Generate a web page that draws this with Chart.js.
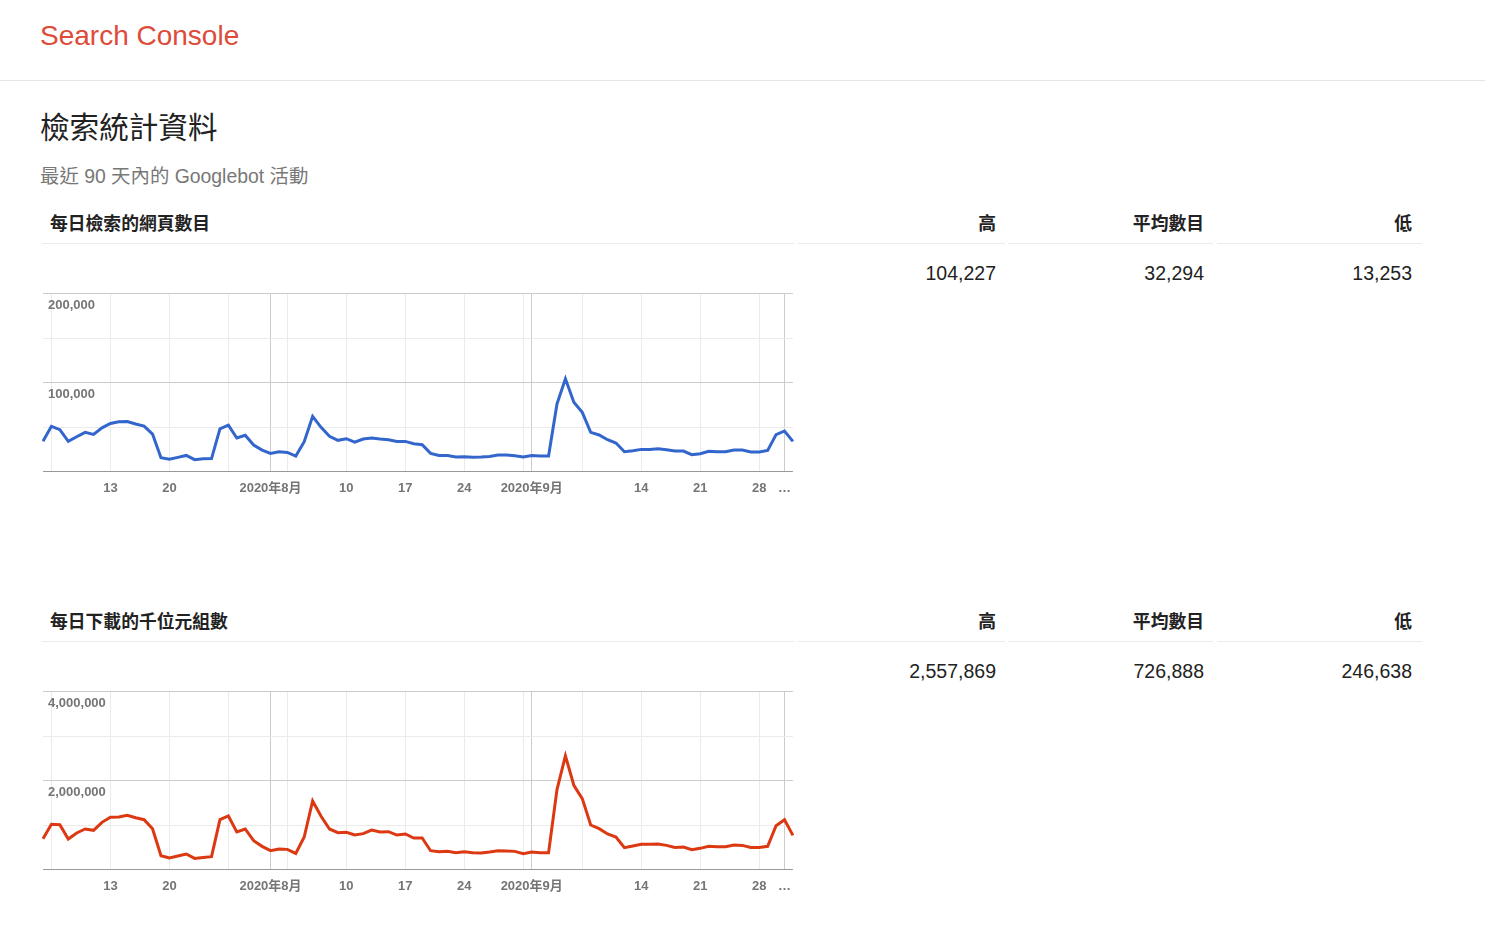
<!DOCTYPE html>
<html lang="zh-Hant">
<head>
<meta charset="utf-8">
<title>Search Console - 檢索統計資料</title>
<script src="https://cdn.jsdelivr.net/npm/chart.js@4.4.1/dist/chart.umd.min.js"></script>
<style>
  body { margin: 0; background: #fff; font-family: "Liberation Sans", Arial, "Noto Sans CJK TC", sans-serif; color: #222; }
  .abs { position: absolute; white-space: nowrap; }
  .topbar { left: 0; top: 0; width: 1485px; height: 80px; border-bottom: 1px solid #e5e5e5; }
  .brand { left: 40px; top: 20px; font-size: 28px; line-height: 32px; color: #dd4b39; }
  .title { left: 40px; top: 108px; font-size: 29.6px; line-height: 40px; color: #222; }
  .sub { left: 40px; top: 164px; font-size: 19.4px; line-height: 24px; color: #777; }
  .block { left: 0; width: 1485px; height: 320px; }
  .rule { top: 43px; height: 1px; background: #ebebeb; }
  .head { top: 12px; font-size: 17.8px; line-height: 24px; font-weight: bold; color: #222; }
  .val { top: 61px; font-size: 19.5px; line-height: 24px; color: #222; text-align: right; }
  .chartbox { left: 33px; top: 81px; }
</style>
</head>
<body>
<div class="abs topbar"></div>
<div class="abs brand">Search Console</div>
<div class="abs title">檢索統計資料</div>
<div class="abs sub">最近 90 天內的 Googlebot 活動</div>

<div class="abs block" id="block1" style="top:200px"></div>
<div class="abs block" id="block2" style="top:598px"></div>

<script>
// 90 days of Googlebot activity, starting 2020-07-05
const startDay = new Date(2020, 6, 5);
const days = [];
for (let i = 0; i < 90; i++) {
    const d = new Date(startDay.getFullYear(), startDay.getMonth(), startDay.getDate() + i);
    days.push(d.getFullYear() + '/' + (d.getMonth() + 1) + '/' + d.getDate());
}

const pagesCrawled = [
    34000, 50700, 47000, 33800, 39000, 44000, 41700, 49000, 54000, 56000,
    56200, 53400, 51000, 42000, 15400, 13600, 15800, 18000, 13253, 14300,
    14400, 48000, 52000, 37600, 40600, 29700, 24000, 20300, 22200, 21400,
    17300, 33500, 62000, 49600, 39500, 35000, 36800, 33000, 36500, 37600,
    36500, 35700, 33800, 33800, 31200, 30000, 20300, 18000, 18000, 16200,
    16500, 15800, 16200, 16900, 18400, 18400, 17700, 16200, 18000, 17300,
    17300, 76000, 104227, 77800, 66500, 44000, 41000, 35700, 32000, 22200,
    23300, 24800, 24800, 25600, 24400, 22900, 22900, 18800, 19900, 22600,
    22200, 22200, 24000, 24000, 21800, 21800, 23700, 41400, 45500, 33800
];

const kbDownloaded = [
    692000, 1015000, 1008000, 684000, 820000, 910000, 880000, 1060000, 1173000, 1180000,
    1218000, 1165000, 1120000, 917000, 308000, 256000, 300000, 346000, 246638, 270000,
    286000, 1120000, 1203000, 842000, 910000, 647000, 519000, 421000, 459000, 451000,
    360000, 729000, 1541000, 1195000, 910000, 827000, 835000, 774000, 805000, 887000,
    842000, 850000, 774000, 797000, 707000, 707000, 421000, 398000, 406000, 376000,
    398000, 376000, 368000, 391000, 421000, 414000, 406000, 353000, 391000, 376000,
    376000, 1797000, 2557869, 1895000, 1594000, 1000000, 917000, 797000, 729000, 489000,
    526000, 564000, 564000, 571000, 541000, 496000, 504000, 444000, 474000, 519000,
    511000, 511000, 549000, 541000, 496000, 496000, 519000, 985000, 1120000, 767000
];

// x ticks: weekly Mondays plus the first of each month
const tickDays = [1, 8, 15, 22, 27, 29, 36, 43, 50, 57, 58, 64, 71, 78, 85, 88];
const tickText = ['', '13', '20', '', '2020年8月', '', '10', '17', '24', '', '2020年9月', '', '14', '21', '28', '…'];
const monthStarts = [27, 58, 88];

const statHeaders = ['高', '平均數目', '低'];
const pageStats = ['104,227', '32,294', '13,253'];
const kbStats = ['2,557,869', '726,888', '246,638'];

const tickFont = { family: "'Liberation Sans', Arial, 'Noto Sans CJK TC', sans-serif", size: 13, weight: 'bold' };

function buildBlock(blockId, title, stats, canvasId) {
    const block = document.getElementById(blockId);
    const cols = [[42, 795], [798, 1005], [1008, 1213], [1217, 1422]];
    let html = '';
    cols.forEach(c => {
        html += '<div class="abs rule" style="left:' + c[0] + 'px;width:' + (c[1] - c[0]) + 'px"></div>';
    });
    html += '<div class="abs head" style="left:50px">' + title + '</div>';
    const rights = [996, 1204, 1412];
    statHeaders.forEach((h, i) => {
        html += '<div class="abs head" style="right:' + (1485 - rights[i]) + 'px">' + h + '</div>';
        html += '<div class="abs val" style="right:' + (1485 - rights[i]) + 'px">' + stats[i] + '</div>';
    });
    html += '<div class="abs chartbox"><canvas id="' + canvasId + '" width="767" height="224"></canvas></div>';
    block.innerHTML = html;
}

function initChart(canvasId, values, color, yMax, yStep) {
    const ctx = document.getElementById(canvasId).getContext('2d');
    return new Chart(ctx, {
        type: 'line',
        data: {
            labels: days,
            datasets: [{
                data: values,
                borderColor: color,
                borderWidth: 3,
                pointRadius: 0,
                tension: 0,
                fill: false
            }]
        },
        options: {
            responsive: false,
            animation: false,
            layout: { padding: 0 },
            plugins: { legend: { display: false }, tooltip: { enabled: false } },
            scales: {
                x: {
                    type: 'category',
                    offset: false,
                    afterBuildTicks: (scale) => {
                        scale.ticks = tickDays.map(v => ({ value: v }));
                    },
                    grid: {
                        drawTicks: false,
                        color: (c) => monthStarts.includes(c.tick && c.tick.value) ? '#cccccc' : '#ebebeb'
                    },
                    border: { display: false },
                    ticks: {
                        autoSkip: false,
                        maxRotation: 0,
                        padding: 9,
                        color: '#757575',
                        font: tickFont,
                        callback: (value) => tickText[tickDays.indexOf(value)]
                    }
                },
                y: {
                    min: 0,
                    max: yMax,
                    grid: {
                        drawTicks: false,
                        color: (c) => {
                            const v = c.tick ? c.tick.value : 0;
                            if (v === 0) return '#999999';
                            return v % (yStep * 2) === 0 ? '#cccccc' : '#ebebeb';
                        }
                    },
                    border: { display: false },
                    ticks: {
                        stepSize: yStep,
                        mirror: true,
                        padding: 5,
                        labelOffset: 12,
                        color: '#757575',
                        font: tickFont,
                        callback: (v) => (v > 0 && v % (yStep * 2) === 0) ? v.toLocaleString('en-US') : ''
                    }
                }
            }
        }
    });
}

buildBlock('block1', '每日檢索的網頁數目', pageStats, 'pagesChart');
buildBlock('block2', '每日下載的千位元組數', kbStats, 'kbChart');
initChart('pagesChart', pagesCrawled, '#3366cc', 200000, 50000);
initChart('kbChart', kbDownloaded, '#dc3912', 4000000, 1000000);
</script>
</body>
</html>
